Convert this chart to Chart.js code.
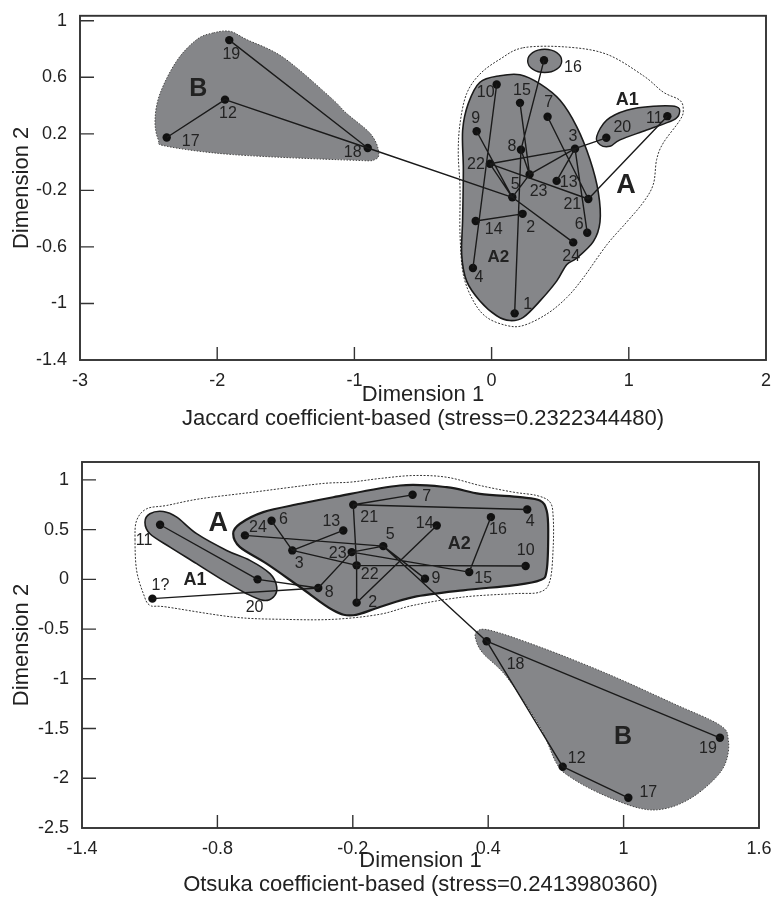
<!DOCTYPE html>
<html>
<head>
<meta charset="utf-8">
<script src="https://cdn.jsdelivr.net/npm/chart.js@4.4.1/dist/chart.umd.min.js"></script>
<style>
html, body { margin: 0; padding: 0; background: #fff; }
canvas { display: block; }
</style>
</head>
<body>
<canvas id="jaccard" width="774" height="440"></canvas>
<canvas id="otsuka" width="774" height="461"></canvas>
<script>
// ---- Jaccard (top) ----
const jacIds = [1, 2, 3, 4, 5, 6, 7, 8, 9, 10, 11, 12, 13, 14, 15, 16, 17, 18, 19, 20, 21, 22, 23, 24];
const jacX = [0.168, 0.226, 0.608, -0.136, 0.151, 0.697, 0.408, 0.214, -0.109, 0.037, 1.281, -1.943,
	0.474, -0.116, 0.207, 0.382, -2.368, -0.903, -1.912, 0.836, 0.705, -0.012, 0.277, 0.595];
const jacY = [-1.07, -0.366, 0.095, -0.749, -0.249, -0.5, 0.321, 0.088, 0.218, 0.549, 0.325, 0.442,
	-0.133, -0.417, 0.419, 0.721, 0.174, 0.1, 0.863, 0.172, -0.261, -0.012, -0.087, -0.568];
const jacEdges = [[19, 18], [12, 18], [17, 12], [18, 5], [16, 8], [8, 1], [8, 23], [15, 23], [23, 5],
	[10, 4], [7, 21], [3, 6], [3, 13], [3, 23], [22, 3], [3, 20], [22, 21], [21, 11], [9, 5], [22, 5],
	[5, 24], [14, 2]];
const jacXTicks = [-3, -2, -1, 0, 1, 2];
const jacYTicks = [-1.4, -1, -0.6, -0.2, 0.2, 0.6, 1];
const jacCaption = "Jaccard coefficient-based (stress=0.2322344480)";

const jacHullA = [[0.231, 0.809], [0.547, 0.814], [0.839, 0.763], [1.106, 0.611], [1.251, 0.495],
	[1.373, 0.437], [1.397, 0.367], [1.373, 0.297], [1.251, 0.135], [1.203, 0.018], [1.179, -0.156],
	[1.106, -0.284], [0.985, -0.424], [0.839, -0.586], [0.668, -0.819], [0.547, -0.959], [0.402, -1.075],
	[0.231, -1.156], [0.11, -1.156], [-0.036, -1.098], [-0.133, -0.982], [-0.206, -0.796], [-0.23, -0.516],
	[-0.23, -0.191], [-0.243, 0.065], [-0.23, 0.274], [-0.182, 0.484], [-0.085, 0.623], [0.061, 0.728]];
const jacHullA2 = [[-0.085, 0.565], [0.061, 0.611], [0.207, 0.618], [0.353, 0.553], [0.499, 0.437],
	[0.62, 0.251], [0.717, 0.018], [0.778, -0.214], [0.79, -0.424], [0.741, -0.563], [0.62, -0.68],
	[0.547, -0.726], [0.474, -0.842], [0.353, -0.982], [0.231, -1.098], [0.134, -1.121], [0.037, -1.087],
	[-0.085, -0.982], [-0.182, -0.842], [-0.218, -0.656], [-0.211, -0.401], [-0.206, -0.052],
	[-0.211, 0.225], [-0.17, 0.414]];
const jacHull16 = [[0.511, 0.716], [0.475, 0.774], [0.387, 0.798], [0.299, 0.774], [0.263, 0.716],
	[0.299, 0.658], [0.387, 0.634], [0.475, 0.658]];
const jacHullA1 = [[0.766, 0.181], [0.839, 0.297], [0.985, 0.367], [1.179, 0.395], [1.349, 0.391],
	[1.368, 0.344], [1.324, 0.297], [1.13, 0.227], [0.936, 0.158], [0.863, 0.112], [0.79, 0.123]];
const jacHullB = [[-2.028, 0.914], [-1.907, 0.925], [-1.785, 0.867], [-1.518, 0.74], [-1.178, 0.461],
	[-1.056, 0.344], [-0.886, 0.204], [-0.826, 0.088], [-0.85, 0.018], [-1.032, 0.014], [-1.883, 0.053],
	[-2.368, 0.112], [-2.429, 0.158], [-2.453, 0.297], [-2.417, 0.484], [-2.295, 0.716], [-2.149, 0.867]];

// ---- Otsuka (bottom) ----
const otsIds = [1, 2, 3, 4, 5, 6, 7, 8, 9, 10, 11, 12, 13, 14, 15, 16, 17, 18, 19, 20, 21, 22, 23, 24];
const otsNames = ["1?", "2", "3", "4", "5", "6", "7", "8", "9", "10", "11", "12", "13", "14", "15", "16",
	"17", "18", "19", "20", "21", "22", "23", "24"];
const otsX = [-1.088, -0.183, -0.468, 0.573, -0.065, -0.56, 0.065, -0.353, 0.12, 0.566, -1.054, 0.73,
	-0.242, 0.172, 0.316, 0.412, 1.021, 0.393, 1.427, -0.622, -0.198, -0.183, -0.205, -0.678];
const otsY = [-0.194, -0.234, 0.291, 0.703, 0.334, 0.589, 0.85, -0.087, 0.007, 0.134, 0.549, -1.884,
	0.492, 0.542, 0.073, 0.626, -2.196, -0.622, -1.593, 0, 0.75, 0.141, 0.274, 0.442];
const otsEdges = [[11, 20], [20, 8], [1, 8], [8, 23], [24, 5], [6, 3], [3, 13], [3, 22], [22, 10],
	[21, 7], [21, 4], [21, 22], [22, 2], [2, 14], [23, 5], [23, 15], [5, 9], [5, 18], [15, 16],
	[18, 19], [18, 12], [12, 17]];
const otsXTicks = [-1.4, -0.8, -0.2, 0.4, 1, 1.6];
const otsYTicks = [-2.5, -2, -1.5, -1, -0.5, 0, 0.5, 1];
const otsCaption = "Otsuka coefficient-based (stress=0.2413980360)";

const otsHullA = [[-1.165, 0.392], [-1.158, 0.592], [-1.113, 0.71], [-1.025, 0.743], [-0.877, 0.81],
	[-0.641, 0.877], [-0.346, 0.961], [-0.213, 0.977], [-0.08, 1.014], [0.068, 1.044], [0.216, 1.027],
	[0.363, 0.944], [0.511, 0.877], [0.615, 0.843], [0.674, 0.776], [0.688, 0.625], [0.688, 0.324],
	[0.674, -0.01], [0.629, -0.128], [0.511, -0.144], [0.289, -0.178], [0.068, -0.261], [-0.08, -0.351],
	[-0.287, -0.402], [-0.508, -0.402], [-0.73, -0.379], [-1.025, -0.278], [-1.099, -0.261],
	[-1.128, -0.144], [-1.158, 0.09]];
const otsHullA2 = [[-0.73, 0.459], [-0.7, 0.559], [-0.597, 0.676], [-0.434, 0.76], [-0.287, 0.826],
	[0.009, 0.944], [0.216, 0.927], [0.363, 0.86], [0.541, 0.826], [0.629, 0.793], [0.659, 0.693],
	[0.666, 0.492], [0.659, 0.09], [0.629, -0.01], [0.511, -0.06], [0.289, -0.11], [0.068, -0.178],
	[-0.08, -0.278], [-0.198, -0.361], [-0.287, -0.311], [-0.434, -0.077], [-0.582, 0.158], [-0.7, 0.324]];
const otsHullA1 = [[-1.121, 0.575], [-1.099, 0.66], [-1.04, 0.683], [-0.98, 0.626], [-0.892, 0.459],
	[-0.759, 0.291], [-0.656, 0.191], [-0.567, 0.057], [-0.537, -0.077], [-0.552, -0.178],
	[-0.597, -0.211], [-0.67, -0.144], [-0.774, -0.01], [-0.892, 0.158], [-1.01, 0.324], [-1.099, 0.459]];
const otsHullB = [[0.349, -0.529], [0.408, -0.512], [0.629, -0.68], [0.925, -0.947], [1.22, -1.248],
	[1.427, -1.466], [1.464, -1.616], [1.456, -1.817], [1.412, -1.985], [1.308, -2.186], [1.191, -2.302],
	[1.072, -2.302], [0.895, -2.152], [0.762, -1.985], [0.703, -1.851], [0.629, -1.483], [0.482, -0.981],
	[0.378, -0.746], [0.346, -0.612]];

// ---- estilos ----
const FONT = "'Liberation Sans', Arial, Helvetica, sans-serif";
const INK = "#222";
const GRAY = "#858689";

const jacLabelOffsets = {
	1: [13, -9], 2: [8, 14], 3: [-2, -12], 4: [6, 10], 5: [3, -13], 6: [-8, -8], 7: [1, -14], 8: [-9, -3],
	9: [-1, -13], 10: [-11, 8], 11: [-13, 2], 12: [3, 14], 13: [12, 2], 14: [18, 9], 15: [2, -12],
	16: [29, 7], 17: [24, 4], 18: [-15, 5], 19: [2, 14], 20: [16, -10], 21: [-16, 6], 22: [-14, 1],
	23: [9, 17], 24: [-2, 14],
};
const otsLabelOffsets = {
	1: [8, -13], 2: [16, 0], 3: [7, 13], 4: [3, 12], 5: [7, -12], 6: [12, -1], 7: [14, 2], 8: [11, 5],
	9: [11, 0], 10: [0, -15], 11: [-16, 16], 12: [14, -8], 13: [-12, -9], 14: [-12, -2], 15: [14, 6],
	16: [7, 12], 17: [20, -5], 18: [29, 23], 19: [-12, 11], 20: [-3, 28], 21: [16, 13], 22: [13, 9],
	23: [-14, 1], 24: [13, -8],
};

// Curva cerrada suave (Catmull-Rom)
function smoothPath(ctx, pts) {
	const n = pts.length;
	ctx.moveTo(pts[0][0], pts[0][1]);
	for (let i = 0; i < n; i++) {
		const p0 = pts[(i - 1 + n) % n], p1 = pts[i], p2 = pts[(i + 1) % n], p3 = pts[(i + 2) % n];
		ctx.bezierCurveTo(
			p1[0] + (p2[0] - p0[0]) / 6, p1[1] + (p2[1] - p0[1]) / 6,
			p2[0] - (p3[0] - p1[0]) / 6, p2[1] - (p3[1] - p1[1]) / 6,
			p2[0], p2[1],
		);
	}
	ctx.closePath();
}

function edgeData(ids, xs, ys, edges) {
	const out = [];
	edges.forEach(([a, b]) => {
		const i = ids.indexOf(a), j = ids.indexOf(b);
		out.push({ x: xs[i], y: ys[i] }, { x: xs[j], y: ys[j] }, { x: null, y: null });
	});
	return out;
}

// Plugin: zonas, etiquetas, marco y ticks interiores
function decor(cfg) {
	return {
		id: "decor",
		beforeDatasetsDraw(chart) {
			const { ctx, scales: { x, y } } = chart;
			cfg.hulls.forEach((h) => {
				const pts = h.pts.map((p) => [x.getPixelForValue(p[0]), y.getPixelForValue(p[1])]);
				ctx.save();
				ctx.beginPath();
				smoothPath(ctx, pts);
				if (h.fill) {
					ctx.fillStyle = h.fill;
					ctx.fill();
				}
				ctx.lineWidth = h.width;
				ctx.strokeStyle = h.stroke;
				ctx.setLineDash(h.dash || []);
				ctx.stroke();
				ctx.restore();
			});
		},
		afterDatasetsDraw(chart) {
			const { ctx, scales: { x, y } } = chart;
			ctx.save();
			ctx.fillStyle = INK;
			ctx.textAlign = "center";
			ctx.textBaseline = "middle";
			ctx.font = "16px " + FONT;
			cfg.ids.forEach((id, i) => {
				const off = cfg.offsets[id] || [0, 0];
				const px = x.getPixelForValue(cfg.xs[i]) + off[0];
				const py = y.getPixelForValue(cfg.ys[i]) + off[1];
				ctx.fillText(cfg.names ? cfg.names[i] : String(id), px, py);
			});
			cfg.groups.forEach((g) => {
				ctx.font = "bold " + g.size + "px " + FONT;
				ctx.fillText(g.text, x.getPixelForValue(g.x), y.getPixelForValue(g.y));
			});
			ctx.restore();
		},
		afterDraw(chart) {
			const { ctx, chartArea: a, scales: { x, y } } = chart;
			ctx.save();
			ctx.strokeStyle = "#333";
			ctx.lineWidth = 1.9;
			ctx.strokeRect(a.left, a.top, a.right - a.left, a.bottom - a.top);
			ctx.lineWidth = 1.4;
			ctx.beginPath();
			x.ticks.forEach((t) => {
				const px = x.getPixelForValue(t.value);
				if (px - a.left < 3 || a.right - px < 3) return;
				ctx.moveTo(px, a.bottom);
				ctx.lineTo(px, a.bottom - 13);
			});
			y.ticks.forEach((t) => {
				const py = y.getPixelForValue(t.value);
				if (a.bottom - py < 3 || py - a.top < 3) return;
				ctx.moveTo(a.left, py);
				ctx.lineTo(a.left + 14, py);
			});
			ctx.stroke();
			ctx.restore();
		},
	};
}

function buildChart(canvasId, cfg) {
	const ctx = document.getElementById(canvasId).getContext("2d");
	return new Chart(ctx, {
		type: "scatter",
		data: {
			datasets: [
				{
					data: edgeData(cfg.ids, cfg.xs, cfg.ys, cfg.edges),
					showLine: true,
					spanGaps: false,
					borderColor: "#1a1a1a",
					borderWidth: 1.4,
					pointRadius: 0,
					pointHoverRadius: 0,
				},
				{
					data: cfg.ids.map((id, i) => ({ x: cfg.xs[i], y: cfg.ys[i] })),
					pointRadius: 4.2,
					pointBackgroundColor: "#111",
					pointBorderWidth: 0,
				},
			],
		},
		options: {
			responsive: false,
			animation: false,
			devicePixelRatio: 1,
			layout: { padding: cfg.padding },
			plugins: { legend: { display: false }, tooltip: { enabled: false } },
			scales: {
				x: {
					type: "linear",
					min: cfg.xMin,
					max: cfg.xMax,
					grid: { display: false },
					border: { display: false },
					afterBuildTicks: (s) => { s.ticks = cfg.xTicks.map((v) => ({ value: v })); },
					afterFit: (s) => { s.height = cfg.xHeight; },
					ticks: {
						autoSkip: false,
						maxRotation: 0,
						padding: 2,
						color: INK,
						font: { family: FONT, size: 18 },
						callback: (v) => String(v),
					},
					title: {
						display: true,
						text: ["Dimension 1", cfg.caption],
						color: INK,
						font: { family: FONT, size: 22, lineHeight: 1.1 },
						padding: { top: 0, bottom: cfg.captionPad },
					},
				},
				y: {
					type: "linear",
					min: cfg.yMin,
					max: cfg.yMax,
					grid: { display: false },
					border: { display: false },
					afterBuildTicks: (s) => { s.ticks = cfg.yTicks.map((v) => ({ value: v })); },
					afterFit: (s) => { s.width = cfg.yWidth; },
					ticks: {
						autoSkip: false,
						padding: 5,
						color: INK,
						font: { family: FONT, size: 18 },
						callback: (v) => String(v),
					},
					title: {
						display: true,
						text: "Dimension 2",
						color: INK,
						font: { family: FONT, size: 22, lineHeight: 1.1 },
						padding: { top: 10, bottom: 0 },
					},
				},
			},
		},
		plugins: [decor(cfg)],
	});
}

buildChart("jaccard", {
	ids: jacIds, xs: jacX, ys: jacY, edges: jacEdges, offsets: jacLabelOffsets,
	xMin: -3, xMax: 2, yMin: -1.4, yMax: 1.035, xTicks: jacXTicks, yTicks: jacYTicks,
	caption: jacCaption, captionPad: 9, xHeight: 80, yWidth: 80,
	padding: { top: 11, right: 8, left: 0, bottom: 0 },
	hulls: [
		{ pts: jacHullA, stroke: "#333", width: 1, dash: [2, 1.5] },
		{ pts: jacHullB, fill: GRAY, stroke: "#444", width: 1, dash: [1.5, 1.5] },
		{ pts: jacHullA2, fill: GRAY, stroke: "#1a1a1a", width: 1.6 },
		{ pts: jacHull16, fill: GRAY, stroke: "#1a1a1a", width: 1.4 },
		{ pts: jacHullA1, fill: GRAY, stroke: "#1a1a1a", width: 1.4 },
	],
	groups: [
		{ text: "B", x: -2.138, y: 0.518, size: 25 },
		{ text: "A1", x: 0.989, y: 0.437, size: 18 },
		{ text: "A", x: 0.98, y: -0.163, size: 27 },
		{ text: "A2", x: 0.049, y: -0.675, size: 17 },
	],
});

buildChart("otsuka", {
	ids: otsIds, names: otsNames, xs: otsX, ys: otsY, edges: otsEdges, offsets: otsLabelOffsets,
	xMin: -1.4, xMax: 1.6, yMin: -2.5, yMax: 1.18, xTicks: otsXTicks, yTicks: otsYTicks,
	caption: otsCaption, captionPad: 4, xHeight: 73, yWidth: 82,
	padding: { top: 22, right: 15, left: 0, bottom: 0 },
	hulls: [
		{ pts: otsHullA, stroke: "#333", width: 1, dash: [2, 1.5] },
		{ pts: otsHullB, fill: GRAY, stroke: "#444", width: 1, dash: [1.5, 1.5] },
		{ pts: otsHullA2, fill: GRAY, stroke: "#1a1a1a", width: 2.2 },
		{ pts: otsHullA1, fill: GRAY, stroke: "#1a1a1a", width: 1.6 },
	],
	groups: [
		{ text: "A", x: -0.796, y: 0.565, size: 27 },
		{ text: "A1", x: -0.899, y: -0.01, size: 18 },
		{ text: "A2", x: 0.272, y: 0.358, size: 18 },
		{ text: "B", x: 0.998, y: -1.583, size: 25 },
	],
});
</script>
</body>
</html>
